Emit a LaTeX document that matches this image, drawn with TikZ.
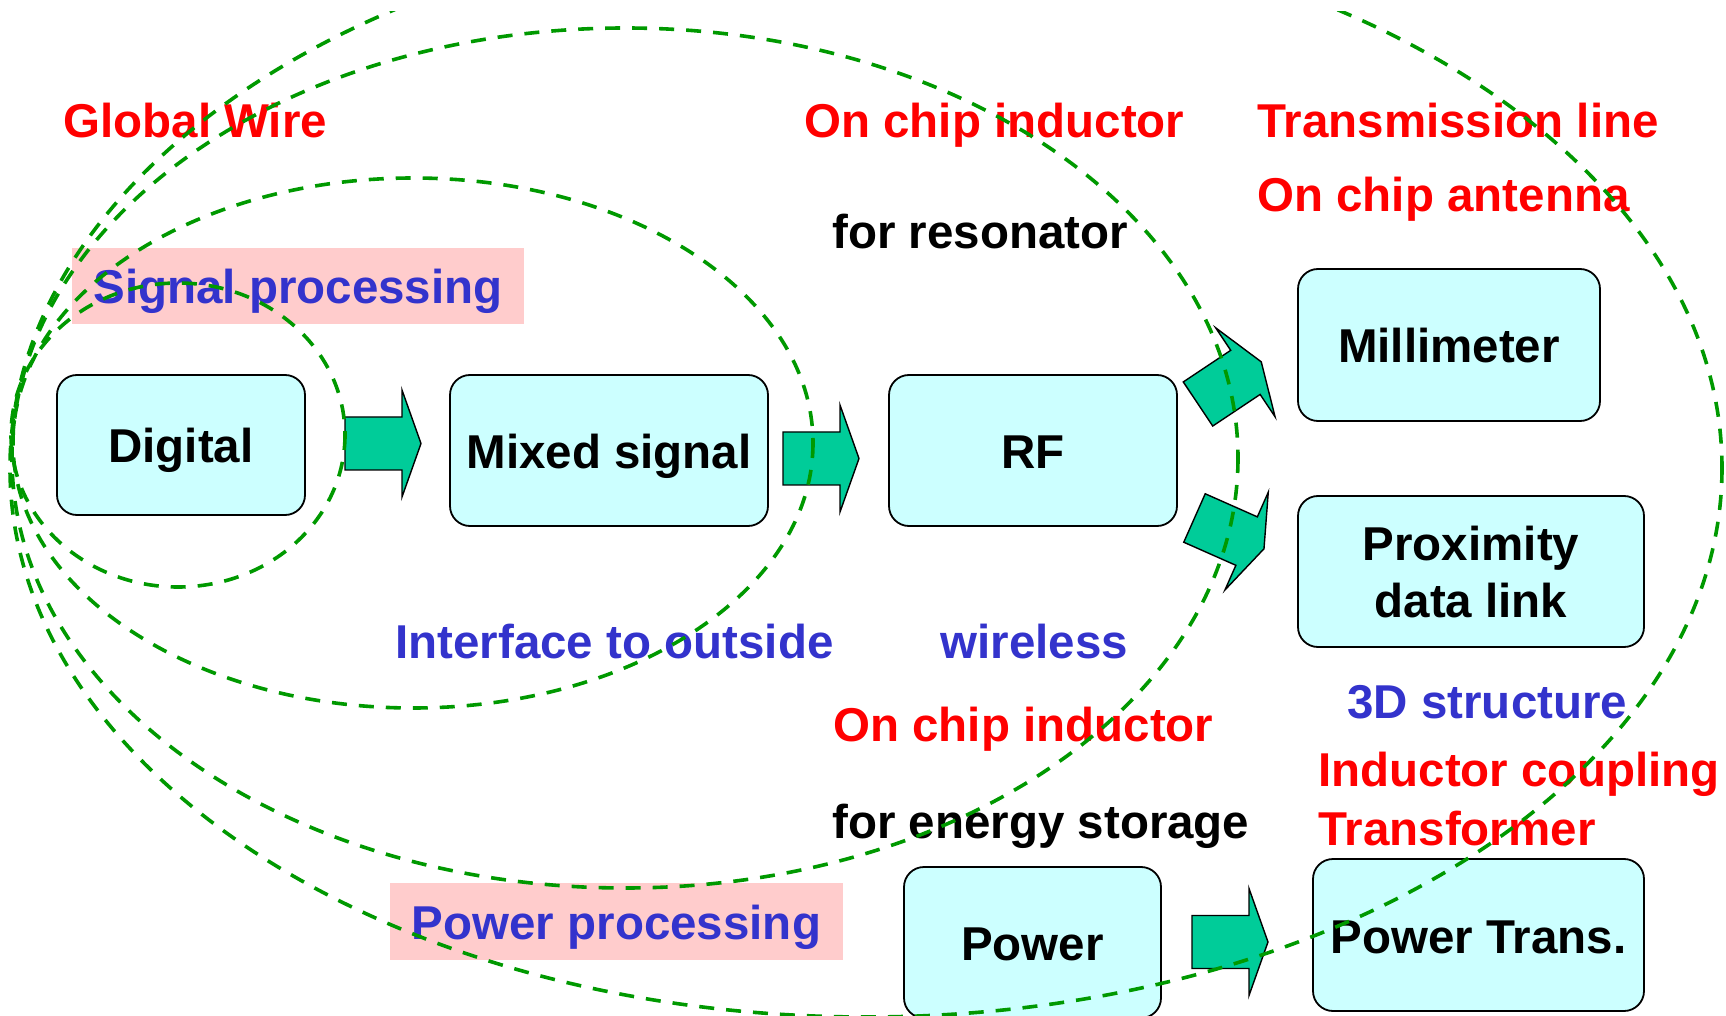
\documentclass[tikz,border=0pt]{standalone}
\usepackage{fontspec}
\setmainfont{Liberation Sans}
\definecolor{boxfill}{HTML}{CCFFFF}
\definecolor{pinkfill}{HTML}{FFCCCC}
\definecolor{arrowgreen}{HTML}{00CC99}
\definecolor{ellgreen}{HTML}{009900}
\definecolor{txtred}{HTML}{FF0000}
\definecolor{txtblue}{HTML}{3333CC}
\begin{document}
\begin{tikzpicture}[x=0.5pt,y=-0.5pt,
  fnt/.style={font=\fontsize{23.75pt}{28.5pt}\selectfont\bfseries},
  box/.style={fnt,draw=black,line width=0.9pt,fill=boxfill,rounded corners=10pt,inner sep=0pt},
  single/.style={text height=18pt,text depth=0pt},
  pinkbox/.style={fnt,fill=pinkfill,inner sep=0pt,text=txtblue,text height=18pt,text depth=0pt},
  lbl/.style={fnt,anchor=base west,inner sep=0pt},
  redtxt/.style={text=txtred},
  bluetxt/.style={text=txtblue},
  blacktxt/.style={text=black},
  ell/.style={draw=ellgreen,line width=1.8pt,dash pattern=on 7.5pt off 6pt},
  arrowshape/.style={draw=black,line width=0.7pt,fill=arrowgreen,line join=miter},
  blockarrow/.pic={\draw[arrowshape] (0,-26.5) -- (57,-26.5) -- (57,-53.5) -- (76,0) -- (57,53.5) -- (57,26.5) -- (0,26.5) -- cycle;}
]
\useasboundingbox (0,0) rectangle (1726,1016);

% pink label boxes
\node[pinkbox,minimum width=226pt,minimum height=38pt] (sigproc) at (298,286) {Signal processing};
\node[pinkbox,minimum width=226.5pt,minimum height=38.5pt] (powproc) at (616.5,921.5) {Power processing};

% blocks
\node[box,single,minimum width=124pt,minimum height=70pt] (digital) at (181,445) {Digital};
\node[box,single,minimum width=159pt,minimum height=75.5pt] (mixed) at (609,450.5) {Mixed signal};
\node[box,single,minimum width=144pt,minimum height=75.5pt] (rf) at (1033,450.5) {RF};
\node[box,single,minimum width=151pt,minimum height=76pt] (mm) at (1449,345) {Millimeter};
\node[box,align=center,text depth=0pt,minimum width=173pt,minimum height=75.5pt] (prox) at (1471,571.5) {Proximity\\data link};
\node[box,single,minimum width=128.5pt,minimum height=75.5pt] (power) at (1032.5,942.5) {Power};
\node[box,single,minimum width=165.5pt,minimum height=76pt] (ptrans) at (1478.5,935) {Power Trans.};

% block arrows
\pic (a1) at (345,443.5) {blockarrow};
\pic (a2) at (783,458.5) {blockarrow};
\pic (a3) at (1192,942) {blockarrow};
\pic[rotate=33.7] (a4) at (1198,404) {blockarrow};
\pic[rotate=-23.9] (a5) at (1194.5,518) {blockarrow};

% labels
\node[lbl,redtxt] (gw) at (63,138) {Global Wire};
\node[lbl,redtxt] (oci1) at (804,138) {On chip inductor};
\node[lbl,redtxt] (tl) at (1257,138) {Transmission line};
\node[lbl,redtxt] (oca) at (1257,212) {On chip antenna};
\node[lbl,blacktxt] (res) at (832,249) {for resonator};
\node[lbl,bluetxt] (ito) at (395,658) {Interface to outside};
\node[lbl,bluetxt] (wl) at (940,658) {wireless};
\node[lbl,bluetxt] (tds) at (1347,718) {3D structure};
\node[lbl,redtxt] (oci2) at (833,741) {On chip inductor};
\node[lbl,redtxt] (ic) at (1318,786) {Inductor coupling};
\node[lbl,blacktxt] (es) at (832,838) {for energy storage};
\node[lbl,redtxt] (tf) at (1318,845) {Transformer};

% dashed scope ellipses
\begin{scope}
\clip (0,12) rectangle (1726,1016);
\draw[ell] (178,435) ellipse [x radius=167, y radius=152];
\draw[ell] (413,443) ellipse [x radius=400, y radius=265];
\draw[ell] (625,458) ellipse [x radius=613, y radius=430];
\draw[ell] (866,468) ellipse [x radius=856, y radius=549];
\end{scope}
\end{tikzpicture}
\end{document}
